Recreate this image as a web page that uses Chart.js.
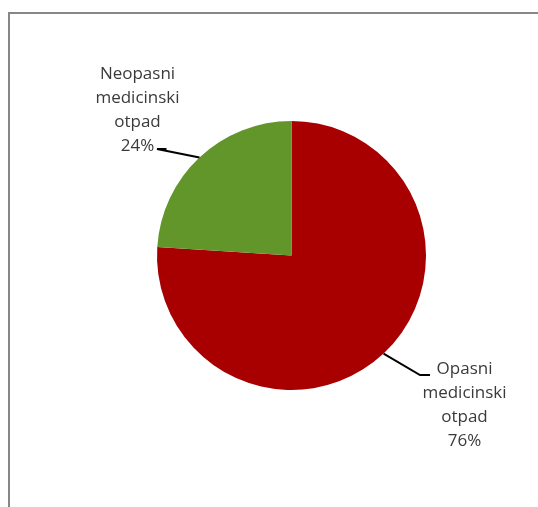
<!DOCTYPE html>
<html>
<head>
<meta charset="utf-8">
<script src="https://cdn.jsdelivr.net/npm/chart.js@4.4.0/dist/chart.umd.min.js"></script>
<style>
  html, body { margin: 0; padding: 0; background: #fff; }
  #frame { position: absolute; left: 8px; top: 12px; width: 600px; height: 600px;
           border-left: 2px solid #878787; border-top: 2px solid #878787; box-sizing: border-box; }
  #wrap { position: absolute; left: 0; top: 0; width: 538px; height: 507px; }
</style>
</head>
<body>
<div id="frame"></div>
<div id="wrap"><canvas id="chart" width="538" height="507"></canvas></div>
<script>
// podaci
const categories = ['Opasni medicinski otpad', 'Neopasni medicinski otpad'];
const labelLines = [['Opasni', 'medicinski', 'otpad'], ['Neopasni', 'medicinski', 'otpad']];
const shares = [76, 24];
const colors = ['#A80000', '#62962A'];

// naljepnice s linijama (kao u Excelu)
const leaderLabels = {
  id: 'leaderLabels',
  afterDatasetsDraw(chart) {
    const ctx = chart.ctx;
    const meta = chart.getDatasetMeta(0);
    const total = shares.reduce((a, b) => a + b, 0);
    // pomaci teksta u odnosu na sredinu pite
    const pos = [
      { dx: 173, top: 114, lineEnd: [128.5, 119.5], lineMid: [138.5, 119.5] },
      { dx: -154, top: -181, lineEnd: [-134.5, -106.5], lineMid: [-125, -106.5] }
    ];
    ctx.save();
    meta.data.forEach((arc, i) => {
      const { x, y, outerRadius, startAngle, endAngle } = arc.getProps(['x', 'y', 'outerRadius', 'startAngle', 'endAngle'], true);
      const mid = (startAngle + endAngle) / 2;
      const ex = x + Math.cos(mid) * outerRadius;
      const ey = y + Math.sin(mid) * outerRadius;
      const p = pos[i];
      ctx.strokeStyle = '#000';
      ctx.lineWidth = 2;
      ctx.beginPath();
      ctx.moveTo(ex, ey);
      ctx.lineTo(x + p.lineEnd[0], y + p.lineEnd[1]);
      ctx.lineTo(x + p.lineMid[0], y + p.lineMid[1]);
      ctx.stroke();

      ctx.fillStyle = '#3a3a3a';
      ctx.font = '17px "Open Sans", "Noto Sans", sans-serif';
      ctx.textAlign = 'center';
      ctx.textBaseline = 'middle';
      const lines = labelLines[i].concat(Math.round(shares[i] / total * 100) + '%');
      lines.forEach((t, k) => {
        ctx.fillText(t, x + p.dx, y + p.top + k * 24);
      });
    });
    ctx.restore();
  }
};

new Chart(document.getElementById('chart'), {
  type: 'pie',
  data: {
    labels: categories,
    datasets: [{
      data: shares,
      backgroundColor: colors,
      borderWidth: 0,
      hoverOffset: 0
    }]
  },
  options: {
    responsive: false,
    animation: false,
    layout: { padding: { left: 157, right: 112, top: 121, bottom: 117 } },
    plugins: {
      legend: { display: false },
      tooltip: { enabled: false }
    }
  },
  plugins: [leaderLabels]
});
</script>
</body>
</html>
